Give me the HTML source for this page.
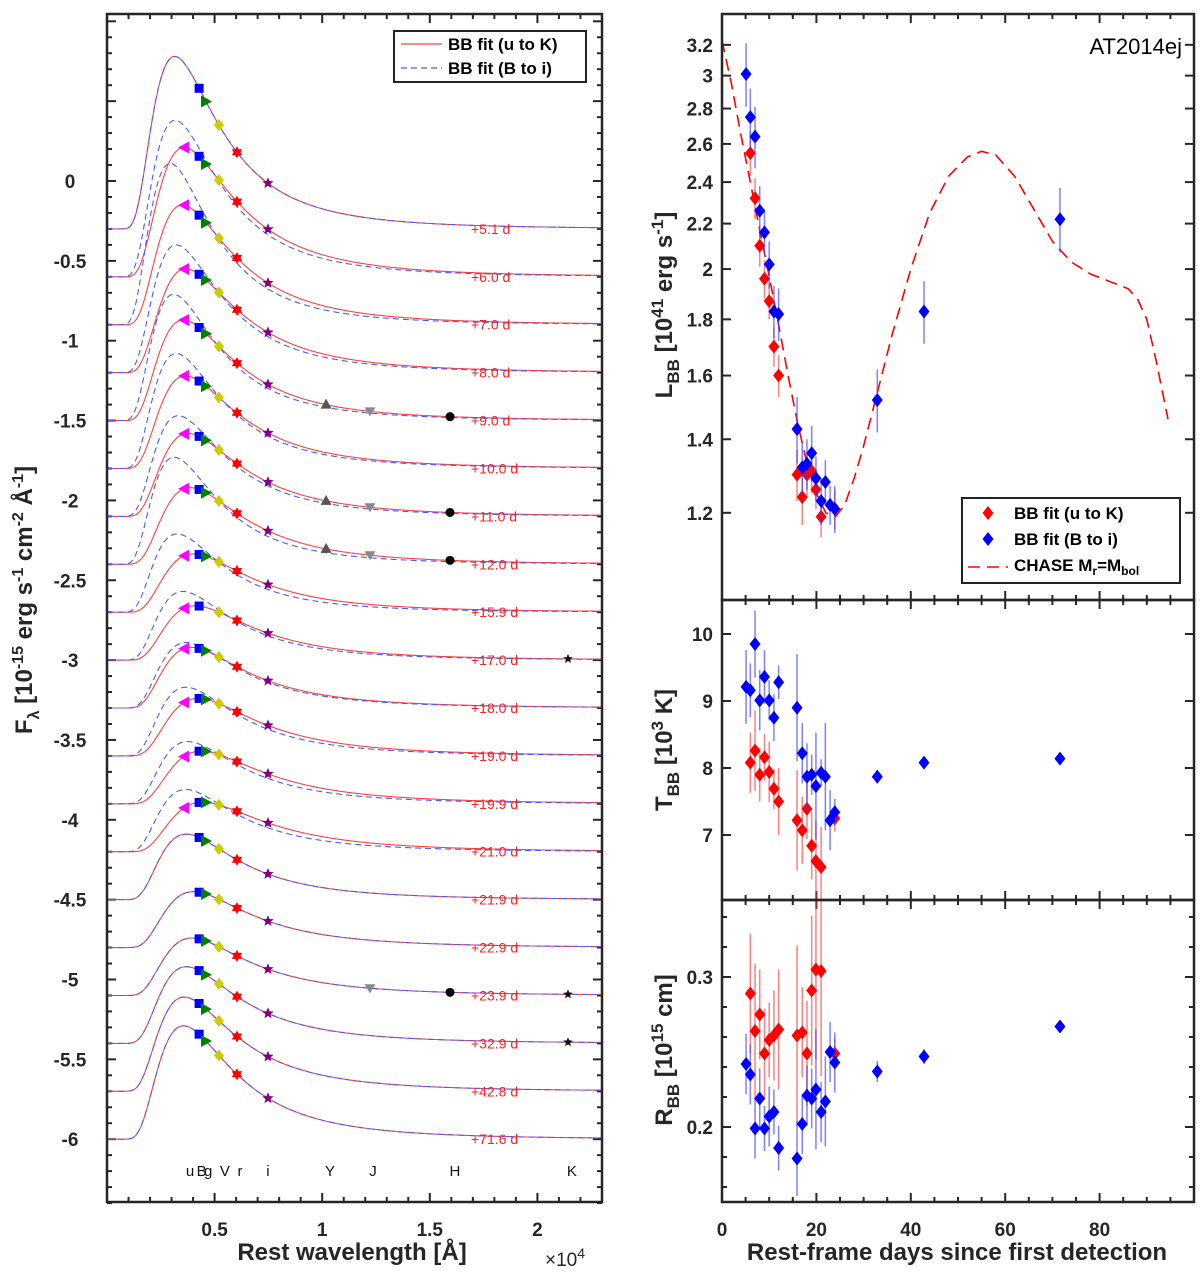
<!DOCTYPE html>
<html><head><meta charset="utf-8">
<style>
html,body{margin:0;padding:0;background:#fff;}
svg{display:block;font-family:"Liberation Sans",Arial,sans-serif;}
.tk{font-weight:bold;font-size:19px;fill:#262626;}
.ttl{font-weight:bold;font-size:24px;fill:#262626;}
</style></head>
<body>
<svg id="fig" width="1200" height="1275" viewBox="0 0 1200 1275" xmlns="http://www.w3.org/2000/svg">
<rect x="0" y="0" width="1200" height="1275" fill="#fff"/>
<g id="left"></g>
<g id="right"></g>
</svg>
<script>
// ===== Left panel data (SED blackbody fits) =====
const epochLabels = ['+5.1 d','+6.0 d','+7.0 d','+8.0 d','+9.0 d','+10.0 d','+11.0 d','+12.0 d','+15.9 d','+17.0 d','+18.0 d','+19.0 d','+19.9 d','+21.0 d','+21.9 d','+22.9 d','+23.9 d','+32.9 d','+42.8 d','+71.6 d'];
const epochOffsets = [-0.3,-0.6,-0.9,-1.2,-1.5,-1.8,-2.1,-2.4,-2.7,-3.0,-3.3,-3.6,-3.9,-4.2,-4.5,-4.8,-5.1,-5.4,-5.7,-6.0];
const fitTempRed = [9210,8080,8260,7900,8160,7940,7690,7500,7220,7070,7390,6840,6610,6520,7870,7220,7340,7870,8080,8140];
const fitTempBlue = [9210,9160,9850,9010,9360,9010,8750,9280,8900,8220,7870,7900,7730,7930,7870,7220,7340,7870,8080,8140];
const fitPeakRed = [1.08,0.81,0.75,0.65,0.63,0.58,0.52,0.48,0.365,0.34,0.38,0.36,0.33,0.31,0.41,0.35,0.36,0.48,0.59,0.71];
const fitPeakBlue = [1.08,0.98,1.01,0.80,0.79,0.72,0.63,0.67,0.49,0.43,0.41,0.43,0.39,0.39,0.41,0.35,0.36,0.48,0.59,0.71];
const bandNames = ['u','B','g','V','r','i','Y','J','H','K'];
const bandWave = [0.358,0.428,0.46,0.52,0.604,0.748,1.018,1.222,1.594,2.142];
const bandLabelWave = [0.386,0.44,0.47,0.548,0.618,0.748,1.036,1.236,1.617,2.16];
const bandEpochs = {
  u:[1,2,3,4,5,6,7,8,9,10,11,12,13],
  B:[0,1,2,3,4,5,6,7,8,9,10,11,12,13,14,15,16,17,18,19],
  g:[0,1,2,3,4,5,6,7,8,10,11,12,13,14,15,16,17,18,19],
  V:[0,1,2,3,4,5,6,7,8,9,10,11,12,13,14,15,16,17,18,19],
  r:[0,1,2,3,4,5,6,7,8,9,10,11,12,13,14,15,16,17,18,19],
  i:[0,1,2,3,4,5,6,7,8,9,10,11,12,13,14,15,16,17,18,19],
  Y:[4,6,7],
  J:[4,6,7,16],
  H:[4,6,7,16],
  K:[9,16,17]
};
const leftXTicks = [0.5,1,1.5,2];
const leftXTickLabels = ['0.5','1','1.5','2'];
const leftYTicks = [0,-0.5,-1,-1.5,-2,-2.5,-3,-3.5,-4,-4.5,-5,-5.5,-6];
const leftYTickLabels = ['0','-0.5','-1','-1.5','-2','-2.5','-3','-3.5','-4','-4.5','-5','-5.5','-6'];

// ===== Right panel data =====
const blueDays = [5.1,6.0,7.0,8.0,9.0,10.0,11.0,12.0,15.9,17.0,18.0,19.0,19.9,21.0,21.9,22.9,23.9,32.9,42.8,71.6];
const blueL = [3.01,2.75,2.64,2.26,2.16,2.02,1.83,1.82,1.43,1.32,1.33,1.36,1.29,1.23,1.28,1.22,1.21,1.52,1.83,2.22];
const blueLerr = [0.2,0.17,0.17,0.12,0.1,0.1,0.1,0.1,0.1,0.07,0.07,0.08,0.06,0.06,0.06,0.05,0.06,0.1,0.12,0.15];
const blueT = [9.21,9.16,9.85,9.01,9.36,9.01,8.75,9.28,8.9,8.22,7.87,7.9,7.73,7.93,7.87,7.22,7.34,7.87,8.08,8.14];
const blueTerr = [0.55,0.4,0.5,0.45,0.4,0.3,0.35,0.25,0.8,0.45,0.5,0.3,0.8,0.2,0.8,0.45,0.2,0.1,0.05,0.05];
const blueR = [0.242,0.235,0.199,0.219,0.199,0.207,0.21,0.186,0.179,0.202,0.221,0.219,0.225,0.21,0.217,0.25,0.243,0.237,0.247,0.267];
const blueRerr = [0.02,0.02,0.02,0.02,0.015,0.02,0.015,0.015,0.025,0.02,0.02,0.02,0.04,0.02,0.03,0.02,0.02,0.007,0.005,0.003];
const redDays = [6.0,7.0,8.0,9.0,10.0,11.0,12.0,15.9,17.0,18.0,19.0,19.9,21.0,23.9];
const redL = [2.55,2.32,2.10,1.96,1.87,1.70,1.60,1.30,1.24,1.30,1.31,1.26,1.19,1.21];
const redLerr = [0.12,0.1,0.09,0.08,0.07,0.07,0.07,0.07,0.07,0.06,0.06,0.05,0.05,0.05];
const redT = [8.08,8.26,7.9,8.16,7.94,7.69,7.5,7.22,7.07,7.39,6.84,6.61,6.52,7.25];
const redTerr = [0.45,0.6,0.4,0.35,0.45,0.3,0.5,0.75,0.5,0.45,0.5,0.6,0.6,0.2];
const redR = [0.289,0.264,0.275,0.249,0.258,0.261,0.265,0.261,0.263,0.249,0.291,0.305,0.304,0.249];
const redRerr = [0.04,0.045,0.03,0.03,0.025,0.03,0.04,0.06,0.03,0.035,0.05,0.06,0.07,0.01];
const chaseDays = [0,2,4,6,8,10,12,14,16,18,20,22,24,26,28,30,33,36,40,44,48,52,55,58,62,66,70,74,78,82,86,88,90,92,94.5];
const chaseL = [3.23,2.95,2.65,2.4,2.17,1.97,1.78,1.6,1.45,1.33,1.25,1.2,1.19,1.22,1.29,1.38,1.55,1.74,2.0,2.25,2.43,2.53,2.56,2.54,2.43,2.27,2.12,2.03,1.98,1.95,1.92,1.88,1.8,1.65,1.46];
const dayTicks = [0,20,40,60,80];
const dayTickLabels = ['0','20','40','60','80'];
const LTicks = [1.2,1.4,1.6,1.8,2,2.2,2.4,2.6,2.8,3,3.2];
const LTickLabels = ['1.2','1.4','1.6','1.8','2','2.2','2.4','2.6','2.8','3','3.2'];
const TTicks = [7,8,9,10];
const TTickLabels = ['7','8','9','10'];
const RTicks = [0.2,0.3];
const RTickLabels = ['0.2','0.3'];

const NS='http://www.w3.org/2000/svg';
function mk(parent,tag,attrs){const e=document.createElementNS(NS,tag);for(const k in attrs)e.setAttribute(k,attrs[k]);parent.appendChild(e);return e;}

// ===== Left axes =====
const LX0=107,LX1=602,LY0=14,LY1=1202;
const lx=v=>LX0+v*215.2;
const ly=v=>181-v*159.7;
const C2=1.4388e8;
function planck(lamA,T){return Math.pow(lamA,-5)/(Math.exp(C2/(lamA*T))-1);}
function bbNorm(x,T){const lp=2.8978e7/T;return planck(x*1e4,T)/planck(lp,T);}

const L=document.getElementById('left');
for(let i=1;i<=22;i++){const v=i/10;const maj=(i%5===0);const len=maj?9:5;
  let t=mk(L,'line',{x1:lx(v),y1:LY1,x2:lx(v),y2:LY1-len,stroke:'#262626','stroke-width':2});
  
  t=mk(L,'line',{x1:lx(v),y1:LY0,x2:lx(v),y2:LY0+len,stroke:'#262626','stroke-width':2});
  }
for(let i=-64;i<=10;i++){const v=i/10;const maj=(i%5===0);const len=maj?9:5;
  let t=mk(L,'line',{x1:LX0,y1:ly(v),x2:LX0+len,y2:ly(v),stroke:'#262626','stroke-width':2});
  
  t=mk(L,'line',{x1:LX1,y1:ly(v),x2:LX1-len,y2:ly(v),stroke:'#262626','stroke-width':2});
  }
leftXTicks.forEach((v,i)=>{const t=mk(L,'text',{x:lx(v),y:1236,'text-anchor':'middle',class:'tk'});t.textContent=leftXTickLabels[i];
  });
leftYTicks.forEach((v,i)=>{const t=mk(L,'text',{x:70,y:ly(v)+7,'text-anchor':'middle',class:'tk'});t.textContent=leftYTickLabels[i];
  });

const defs=mk(document.getElementById('fig'),'defs',{});
const cp=mk(defs,'clipPath',{id:'lclip'});mk(cp,'rect',{x:LX0,y:LY0,width:LX1-LX0,height:LY1-LY0});
const cp2=mk(defs,'clipPath',{id:'rclip'});mk(cp2,'rect',{x:722,y:14,width:472,height:1188});
const curves=mk(L,'g',{'clip-path':'url(#lclip)'});


function curvePath(off,A,T){let d='';for(let x=0.005;x<=2.31;x+=0.005){const y=off+A*bbNorm(x,T);d+=(d?'L':'M')+lx(x).toFixed(1)+' '+ly(y).toFixed(1);}return d;}
epochOffsets.forEach((off,i)=>{
  let p=mk(curves,'path',{d:curvePath(off,fitPeakRed[i],fitTempRed[i]),fill:'none',stroke:'#ff4040','stroke-width':1.1});
  
  p=mk(curves,'path',{d:curvePath(off,fitPeakBlue[i],fitTempBlue[i]),fill:'none',stroke:'#4a5cff','stroke-width':1.1,'stroke-dasharray':'6 4'});
  
  const t=mk(L,'text',{x:471,y:ly(off)+5,fill:'#ff2020','font-size':'14px'});t.textContent=epochLabels[i];
  
});

function starPts(cx,cy,n,ro,ri){let s='';for(let k=0;k<2*n;k++){const r=k%2?ri:ro;const a=-Math.PI/2+k*Math.PI/n;s+=(cx+r*Math.cos(a)).toFixed(1)+','+(cy+r*Math.sin(a)).toFixed(1)+' ';}return s;}
function drawMarker(g,band,cx,cy){
  let e;
  switch(band){
    case 'u': e=mk(g,'polygon',{points:`${cx-6},${cy} ${cx+5},${cy-6} ${cx+5},${cy+6}`,fill:'#ff00ff'});break;
    case 'B': e=mk(g,'rect',{x:cx-4.5,y:cy-4.5,width:9,height:9,fill:'#0000ff'});break;
    case 'g': e=mk(g,'polygon',{points:`${cx+6},${cy} ${cx-5},${cy-6} ${cx-5},${cy+6}`,fill:'#008000'});break;
    case 'V': e=mk(g,'polygon',{points:`${cx},${cy-6} ${cx+5},${cy} ${cx},${cy+6} ${cx-5},${cy}`,fill:'#cccc00'});break;
    case 'r': e=mk(g,'polygon',{points:starPts(cx,cy,6,6,3.5),fill:'#ff0000'});break;
    case 'i': e=mk(g,'polygon',{points:starPts(cx,cy,5,6,2.6),fill:'#800080'});break;
    case 'Y': e=mk(g,'polygon',{points:`${cx},${cy-6} ${cx+5.5},${cy+4} ${cx-5.5},${cy+4}`,fill:'#555'});break;
    case 'J': e=mk(g,'polygon',{points:`${cx},${cy+5} ${cx+5.5},${cy-4} ${cx-5.5},${cy-4}`,fill:'#888'});break;
    case 'H': e=mk(g,'circle',{cx:cx,cy:cy,r:4.5,fill:'#000'});break;
    case 'K': e=mk(g,'polygon',{points:starPts(cx,cy,5,5,2.2),fill:'#111'});break;
  }
  return e;
}
const mg=mk(L,'g',{});
bandNames.forEach((b,bi)=>{
  bandEpochs[b].forEach(i=>{
    const x=bandWave[bi];
    const y=epochOffsets[i]+fitPeakRed[i]*bbNorm(x,fitTempRed[i]);
    const e=drawMarker(mg,b,lx(x),ly(y));
    
    
  });
  const t=mk(L,'text',{x:lx(bandLabelWave[bi]),y:1176,'text-anchor':'middle','font-size':'15px',fill:'#111'});t.textContent=b;
  
});

let bx=mk(L,'rect',{x:LX0,y:LY0,width:LX1-LX0,height:LY1-LY0,fill:'none',stroke:'#262626','stroke-width':2.5});


const lg=mk(L,'g',{});
mk(lg,'rect',{x:394,y:31,width:192,height:51,fill:'#fff',stroke:'#222','stroke-width':2});
let le=mk(lg,'line',{x1:401,y1:44,x2:442,y2:44,stroke:'#ff4040','stroke-width':1.2});

le=mk(lg,'line',{x1:401,y1:68,x2:442,y2:68,stroke:'#4a5cff','stroke-width':1.2,'stroke-dasharray':'6 4'});

let lt=mk(lg,'text',{x:448,y:50,'font-size':'17px','font-weight':'bold',fill:'#000'});lt.textContent='BB fit (u to K)';

lt=mk(lg,'text',{x:448,y:74,'font-size':'17px','font-weight':'bold',fill:'#000'});lt.textContent='BB fit (B to i)';


let xt=mk(L,'text',{x:352,y:1260,'text-anchor':'middle',class:'ttl'});xt.textContent='Rest wavelength [Å]';

let xm=mk(L,'text',{x:545,y:1266,'font-size':'19px',fill:'#262626'});
xm.innerHTML='×10<tspan font-size="14px" dy="-8">4</tspan>';

let yt=mk(L,'text',{x:0,y:0,class:'ttl','text-anchor':'middle',transform:'translate(32,600) rotate(-90)'});
yt.innerHTML='F<tspan font-size="16px" dy="7">λ</tspan><tspan dy="-7"> [10</tspan><tspan font-size="16px" dy="-9">-15</tspan><tspan dy="9"> erg s</tspan><tspan font-size="16px" dy="-9">-1</tspan><tspan dy="9"> cm</tspan><tspan font-size="16px" dy="-9">-2</tspan><tspan dy="9"> Å</tspan><tspan font-size="16px" dy="-9">-1</tspan><tspan dy="9">]</tspan>';


// ===== Right panels =====
const R=document.getElementById('right');
const RX0=722,RX1=1194;
const rx=d=>RX0+d*4.72;
const yL=v=>45+(0.505-Math.log10(v))*1098.6;
const yT=v=>634+(10-v)*67;
const yR=v=>977+(0.3-v)*1500;
const panels=[[14,600],[600,900],[900,1202]];
panels.forEach((p,pi)=>{
  for(let d=5;d<100;d+=5){const len=(d%20===0)?9:5;
    let t=mk(R,'line',{x1:rx(d),y1:p[1],x2:rx(d),y2:p[1]-len,stroke:'#262626','stroke-width':2});
    
    t=mk(R,'line',{x1:rx(d),y1:p[0],x2:rx(d),y2:p[0]+len,stroke:'#262626','stroke-width':2});
    }
});
function yTicks(ticks,labels,f,name){ticks.forEach((v,i)=>{
  let t=mk(R,'line',{x1:RX0,y1:f(v),x2:RX0+9,y2:f(v),stroke:'#262626','stroke-width':2});
  
  t=mk(R,'line',{x1:RX1,y1:f(v),x2:RX1-9,y2:f(v),stroke:'#262626','stroke-width':2});
  
  const s=mk(R,'text',{x:713,y:f(v)+7,'text-anchor':'end',class:'tk'});s.textContent=labels[i];
  });}
yTicks(LTicks,LTickLabels,yL,'l-bb');
yTicks(TTicks,TTickLabels,yT,'t-bb');
yTicks(RTicks,RTickLabels,yR,'r-bb');
for(let v=0.16;v<0.35;v+=0.02){if(Math.abs(v-0.2)<1e-6||Math.abs(v-0.3)<1e-6)continue;
  let t=mk(R,'line',{x1:RX0,y1:yR(v),x2:RX0+5,y2:yR(v),stroke:'#262626','stroke-width':2});
  
  t=mk(R,'line',{x1:RX1,y1:yR(v),x2:RX1-5,y2:yR(v),stroke:'#262626','stroke-width':2});
  }
dayTicks.forEach((d,i)=>{const t=mk(R,'text',{x:rx(d),y:1236,'text-anchor':'middle',class:'tk'});t.textContent=dayTickLabels[i];
  });

const pg=mk(R,'g',{'clip-path':'url(#rclip)'});
let cd='';chaseDays.forEach((d,i)=>{cd+=(i?'L':'M')+rx(d).toFixed(1)+' '+yL(chaseL[i]).toFixed(1);});
let ch=mk(pg,'path',{d:cd,fill:'none',stroke:'#ff0000','stroke-width':1.6,'stroke-dasharray':'12 7'});


function series(days,vals,errs,f,col,ecol,name,clipTop,clipBot){
  days.forEach((d,i)=>{
    const x=rx(d);
    let y1=Math.max(clipTop,Math.min(clipBot,f(vals[i]+errs[i]))),y2=Math.max(clipTop,Math.min(clipBot,f(Math.max(vals[i]-errs[i],0.01))));
    const e=mk(pg,'line',{x1:x,y1:y1,x2:x,y2:y2,stroke:ecol,'stroke-width':1.5});
    
  });
  days.forEach((d,i)=>{
    const x=rx(d),y=f(vals[i]);
    const m=mk(pg,'polygon',{points:`${x},${y-7} ${x+5.5},${y} ${x},${y+7} ${x-5.5},${y}`,fill:col});
    
  });
}
series(redDays,redL,redLerr,yL,'#ff0000','rgba(255,60,60,0.65)','red-l',14,600);
series(blueDays,blueL,blueLerr,yL,'#0000ff','rgba(60,60,255,0.65)','blue-l',14,600);
series(redDays,redT,redTerr,yT,'#ff0000','rgba(255,60,60,0.65)','red-t',600,900);
series(blueDays,blueT,blueTerr,yT,'#0000ff','rgba(60,60,255,0.65)','blue-t',600,900);
series(redDays,redR,redRerr,yR,'#ff0000','rgba(255,60,60,0.65)','red-r',900,1202);
series(blueDays,blueR,blueRerr,yR,'#0000ff','rgba(60,60,255,0.65)','blue-r',900,1202);

panels.forEach((p,pi)=>{const b=mk(R,'rect',{x:RX0,y:p[0],width:RX1-RX0,height:p[1]-p[0],fill:'none',stroke:'#262626','stroke-width':2.5});
  });

let nm=mk(R,'text',{x:1182,y:54,'text-anchor':'end','font-size':'22px',fill:'#000'});nm.textContent='AT2014ej';


const rg=mk(R,'g',{});
mk(rg,'rect',{x:962,y:498,width:218,height:85,fill:'#fff',stroke:'#222','stroke-width':2});
let d1=mk(rg,'polygon',{points:'988,506 993.5,513 988,520 982.5,513',fill:'#ff0000'});

let d2=mk(rg,'polygon',{points:'988,532 993.5,539 988,546 982.5,539',fill:'#0000ff'});

let d3=mk(rg,'line',{x1:968,y1:567,x2:1008,y2:567,stroke:'#ff0000','stroke-width':1.6,'stroke-dasharray':'12 7'});

let r1=mk(rg,'text',{x:1014,y:519,'font-size':'17px','font-weight':'bold'});r1.textContent='BB fit (u to K)';

let r2=mk(rg,'text',{x:1014,y:545,'font-size':'17px','font-weight':'bold'});r2.textContent='BB fit (B to i)';

let r3=mk(rg,'text',{x:1014,y:571,'font-size':'17px','font-weight':'bold'});
r3.innerHTML='CHASE M<tspan font-size="12px" dy="4">r</tspan><tspan dy="-4">=M</tspan><tspan font-size="12px" dy="4">bol</tspan>';


let rxT=mk(R,'text',{x:957,y:1260,'text-anchor':'middle',class:'ttl'});rxT.textContent='Rest-frame days since first detection';

let t1=mk(R,'text',{class:'ttl','text-anchor':'middle',transform:'translate(672,305) rotate(-90)'});
t1.innerHTML='L<tspan font-size="17px" dy="7">BB</tspan><tspan dy="-7"> [10</tspan><tspan font-size="17px" dy="-9">41</tspan><tspan dy="9"> erg s</tspan><tspan font-size="17px" dy="-9">-1</tspan><tspan dy="9">]</tspan>';

let t2=mk(R,'text',{class:'ttl','text-anchor':'middle',transform:'translate(672,750) rotate(-90)'});
t2.innerHTML='T<tspan font-size="17px" dy="7">BB</tspan><tspan dy="-7"> [10</tspan><tspan font-size="17px" dy="-9">3</tspan><tspan dy="9"> K]</tspan>';

let t3=mk(R,'text',{class:'ttl','text-anchor':'middle',transform:'translate(672,1050) rotate(-90)'});
t3.innerHTML='R<tspan font-size="17px" dy="7">BB</tspan><tspan dy="-7"> [10</tspan><tspan font-size="17px" dy="-9">15</tspan><tspan dy="9"> cm]</tspan>';

</script>
</body></html>
